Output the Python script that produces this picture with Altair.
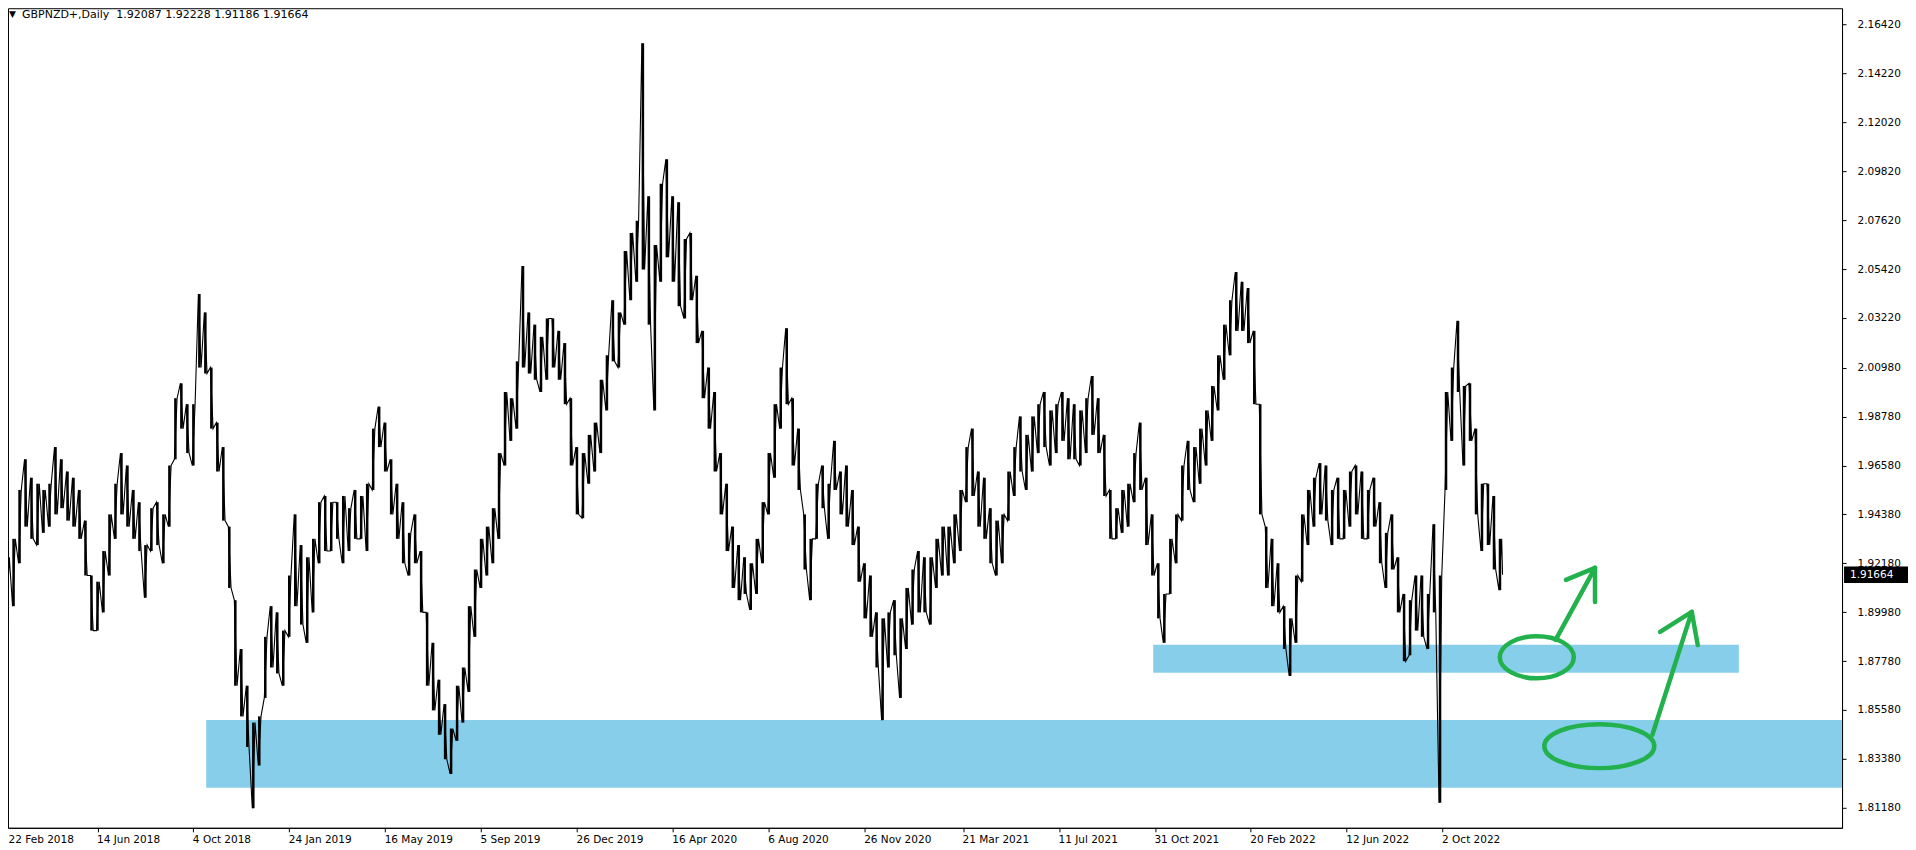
import altair as alt
import pandas as pd

# weekly high / low of GBPNZD daily bars, weeks start 2018-02-20
START = "2018-02-20"
HIGH = [1.9190, 1.9245, 1.9328, 1.9548, 1.9686, 1.9603, 1.9576, 1.9548, 1.9576, 1.9741,
        1.9686, 1.9631, 1.9603, 1.9548, 1.9410, 1.9163, 1.9135, 1.9273, 1.9438, 1.9576,
        1.9714, 1.9658, 1.9548, 1.9493, 1.9300, 1.9466, 1.9493, 1.9438, 1.9658, 1.9961,
        2.0028, 1.9934, 1.9934, 2.0430, 2.0347, 2.0099, 1.9851, 1.9741, 1.9383, 1.9052,
        1.8832, 1.8667, 1.8501, 1.8529, 1.8887, 1.9025, 1.8997, 1.8915, 1.9163, 1.9438,
        1.9300, 1.9245, 1.9328, 1.9493, 1.9521, 1.9493, 1.9493, 1.9521, 1.9466, 1.9548,
        1.9521, 1.9576, 1.9824, 1.9923, 1.9851, 1.9686, 1.9576, 1.9493, 1.9355, 1.9438,
        1.9273, 1.8997, 1.8860, 1.8694, 1.8584, 1.8474, 1.8667, 1.8749, 1.9025, 1.9190,
        1.9328, 1.9383, 1.9466, 1.9714, 1.9989, 1.9961, 2.0127, 2.0556, 2.0347, 2.0292,
        2.0237, 2.0320, 2.0320, 2.0264, 2.0209, 1.9961, 1.9741, 1.9714, 1.9796, 1.9851,
        2.0044, 2.0154, 2.0402, 2.0347, 2.0623, 2.0705, 2.0760, 2.1559, 2.0870, 2.0650,
        2.0926, 2.1036, 2.0870, 2.0843, 2.0678, 2.0705, 2.0512, 2.0264, 2.0099, 1.9989,
        1.9714, 1.9576, 1.9383, 1.9300, 1.9245, 1.9218, 1.9328, 1.9493, 1.9714, 1.9934,
        2.0099, 2.0276, 1.9961, 1.9824, 1.9438, 1.9328, 1.9576, 1.9658, 1.9576, 1.9769,
        1.9631, 1.9658, 1.9548, 1.9383, 1.9218, 1.9163, 1.8997, 1.8970, 1.8997, 1.9052,
        1.8970, 1.9107, 1.9190, 1.9273, 1.9245, 1.9245, 1.9328, 1.9383, 1.9383, 1.9438,
        1.9548, 1.9741, 1.9824, 1.9631, 1.9603, 1.9466, 1.9410, 1.9438, 1.9631, 1.9741,
        1.9879, 1.9796, 1.9879, 1.9934, 1.9989, 1.9906, 1.9934, 1.9989, 1.9961, 1.9934,
        1.9906, 1.9961, 2.0061, 1.9961, 1.9796, 1.9548, 1.9466, 1.9548, 1.9576, 1.9714,
        1.9851, 1.9603, 1.9438, 1.9218, 1.9080, 1.9328, 1.9438, 1.9658, 1.9769, 1.9741,
        1.9824, 1.9906, 2.0016, 2.0154, 2.0292, 2.0402, 2.0529, 2.0485, 2.0457, 2.0264,
        1.9934, 1.9383, 1.9328, 1.9218, 1.9025, 1.8970, 1.9163, 1.9438, 1.9548, 1.9603,
        1.9669, 1.9658, 1.9548, 1.9603, 1.9548, 1.9631, 1.9658, 1.9631, 1.9548, 1.9603,
        1.9493, 1.9355, 1.9438, 1.9245, 1.9080, 1.9052, 1.9163, 1.9163, 1.9080, 1.9394,
        1.9163, 1.9989, 2.0099, 2.0309, 2.0016, 2.0028, 1.9824, 1.9576, 1.9576, 1.9521,
        1.9328]
LOW = [1.8915, 1.8970, 1.9025, 1.9218, 1.9383, 1.9328, 1.9300, 1.9355, 1.9383, 1.9438,
       1.9466, 1.9410, 1.9383, 1.9328, 1.9163, 1.8915, 1.8915, 1.8997, 1.9163, 1.9328,
       1.9438, 1.9383, 1.9328, 1.9273, 1.9063, 1.9273, 1.9300, 1.9218, 1.9383, 1.9686,
       1.9824, 1.9714, 1.9658, 2.0099, 2.0072, 1.9824, 1.9631, 1.9410, 1.9107, 1.8667,
       1.8529, 1.8391, 1.8116, 1.8308, 1.8612, 1.8749, 1.8722, 1.8667, 1.8887, 1.9025,
       1.8942, 1.8860, 1.8997, 1.9218, 1.9273, 1.9273, 1.9328, 1.9218, 1.9273, 1.9328,
       1.9328, 1.9273, 1.9548, 1.9741, 1.9631, 1.9438, 1.9328, 1.9218, 1.9163, 1.9218,
       1.8997, 1.8667, 1.8556, 1.8446, 1.8336, 1.8270, 1.8419, 1.8501, 1.8639, 1.8887,
       1.9107, 1.9163, 1.9218, 1.9328, 1.9658, 1.9769, 1.9824, 2.0099, 2.0072, 2.0044,
       1.9989, 2.0044, 2.0099, 2.0044, 1.9934, 1.9658, 1.9438, 1.9421, 1.9576, 1.9631,
       1.9714, 1.9906, 2.0127, 2.0099, 2.0292, 2.0402, 2.0485, 2.0540, 2.0292, 1.9906,
       2.0485, 2.0595, 2.0485, 2.0375, 2.0320, 2.0402, 2.0209, 1.9961, 1.9824, 1.9631,
       1.9438, 1.9273, 1.9107, 1.9052, 1.9080, 1.9008, 1.9080, 1.9218, 1.9438, 1.9603,
       1.9824, 1.9934, 1.9658, 1.9548, 1.9190, 1.9052, 1.9328, 1.9466, 1.9328, 1.9548,
       1.9438, 1.9383, 1.9300, 1.9135, 1.8970, 1.8887, 1.8749, 1.8512, 1.8749, 1.8804,
       1.8612, 1.8832, 1.8942, 1.8997, 1.8997, 1.8942, 1.9107, 1.9163, 1.9163, 1.9218,
       1.9273, 1.9493, 1.9521, 1.9383, 1.9328, 1.9218, 1.9163, 1.9218, 1.9410, 1.9521,
       1.9631, 1.9548, 1.9631, 1.9714, 1.9741, 1.9658, 1.9714, 1.9769, 1.9686, 1.9686,
       1.9658, 1.9714, 1.9796, 1.9714, 1.9521, 1.9328, 1.9328, 1.9355, 1.9383, 1.9493,
       1.9548, 1.9300, 1.9163, 1.8970, 1.8860, 1.9080, 1.9218, 1.9410, 1.9548, 1.9493,
       1.9576, 1.9658, 1.9769, 1.9906, 2.0044, 2.0154, 2.0264, 2.0264, 2.0209, 1.9934,
       1.9438, 1.9107, 1.9025, 1.8997, 1.8832, 1.8711, 1.8860, 1.9135, 1.9300, 1.9383,
       1.9438, 1.9410, 1.9300, 1.9328, 1.9328, 1.9383, 1.9438, 1.9328, 1.9328, 1.9383,
       1.9218, 1.9107, 1.9190, 1.8997, 1.8777, 1.8804, 1.8915, 1.8887, 1.8832, 1.8997,
       1.8140, 1.9548, 1.9769, 1.9989, 1.9658, 1.9769, 1.9438, 1.9273, 1.9300, 1.9190,
       1.9097]
LAST_OHLC = [1.92087, 1.92228, 1.91186, 1.91664]

X_TICKS = ["2018-02-22", "2018-06-14", "2018-10-04", "2019-01-24", "2019-05-16",
           "2019-09-05", "2019-12-26", "2020-04-16", "2020-08-06", "2020-11-26",
           "2021-03-21", "2021-07-11", "2021-10-31", "2022-02-20", "2022-06-12",
           "2022-10-02"]
Y_TICKS = [2.16420, 2.14220, 2.12020, 2.09820, 2.07620, 2.05420, 2.03220, 2.00980,
           1.98780, 1.96580, 1.94380, 1.92180, 1.89980, 1.87780, 1.85580, 1.83380,
           1.81180]

ZONE_START = ["2018-10-19", "2021-10-29"]
ZONE_END = ["2024-03-01", "2023-09-13"]
ZONE_TOP = [1.8513, 1.8851]
ZONE_BOTTOM = [1.8208, 1.8725]

ELL_DATE = ["2023-01-20", "2023-04-03"]
ELL_PRICE = [1.8795, 1.8395]

# arrow segments: (segment id, date, price)
ARROW_SEG = ["a1", "a1", "a1h1", "a1h1", "a1h2", "a1h2",
             "a2", "a2", "a2h1", "a2h1", "a2h2", "a2h2"]
ARROW_DATE = ["2023-02-11", "2023-03-29", "2023-03-29", "2023-02-23", "2023-03-29", "2023-03-29",
              "2023-06-04", "2023-07-20", "2023-07-20", "2023-06-13", "2023-07-20", "2023-07-27"]
ARROW_PRICE = [1.8873, 1.9197, 1.9197, 1.9143, 1.9197, 1.9044,
               1.8446, 1.8999, 1.8999, 1.8909, 1.8999, 1.8850]

GREEN = "#22B14C"
BLUE = "#87CEEB"
FONT = "DejaVu Sans"
W, H = 1835, 820

# ---- build tables ----
weeks = pd.date_range(START, periods=len(HIGH), freq="7D")
rows = []
rules = []
for i, (d, h, l) in enumerate(zip(weeks, HIGH, LOW)):
    mid = (h + l) / 2
    nxt = (HIGH[i + 1] + LOW[i + 1]) / 2 if i + 1 < len(HIGH) else mid
    a, b = (l, h) if nxt >= mid else (h, l)
    rows.append({"t": d + pd.Timedelta(hours=20), "p": a})
    rows.append({"t": d + pd.Timedelta(days=4), "p": b})
    rules.append({"t": d + pd.Timedelta(days=2), "lo": l, "hi": h})
rows.append({"t": weeks[-1] + pd.Timedelta(days=5), "p": LAST_OHLC[3]})
line_df = pd.DataFrame(rows)
rule_df = pd.DataFrame(rules)

zones = pd.DataFrame({"s": pd.to_datetime(ZONE_START), "e": pd.to_datetime(ZONE_END),
                      "top": ZONE_TOP, "bot": ZONE_BOTTOM})
ell = pd.DataFrame({"t": pd.to_datetime(ELL_DATE), "p": ELL_PRICE, "k": ["e1", "e2"]})
arrows = pd.DataFrame({"seg": ARROW_SEG, "t": pd.to_datetime(ARROW_DATE), "p": ARROW_PRICE})
first_lab = pd.DataFrame({"t": pd.to_datetime([X_TICKS[0]]), "txt": ["22 Feb 2018"]})

x_dom = [alt.DateTime(year=2018, month=3, date=1, hours=12),
         alt.DateTime(year=2024, month=1, date=11, hours=12)]
xscale = alt.Scale(domain=x_dom)
yscale = alt.Scale(domain=[1.80275, 2.17162], nice=False, zero=False)

x_axis = alt.Axis(values=[alt.DateTime(year=int(s[:4]), month=int(s[5:7]), date=int(s[8:]))
                          for s in X_TICKS],
                  format="%-d %b %Y", labelAlign="left", labelOffset=-1, labelPadding=3,
                  tickSize=4, tickColor="black", domainColor="black", labelFont=FONT,
                  labelFontSize=10.5, labelColor="black", title=None, grid=False,
                  labelOverlap=False, labelFlush=False)
y_axis = alt.Axis(values=Y_TICKS, format=".5f", orient="right", tickSize=4,
                  tickColor="black", domainColor="black", labelFont=FONT,
                  labelFontSize=10.5, labelColor="black", labelPadding=11, title=None,
                  grid=False, labelOverlap=False, labelFlush=False)

zone_layer = alt.Chart(zones).mark_rect(color=BLUE, clip=True).encode(
    x=alt.X("s:T", scale=xscale, axis=x_axis), x2="e:T",
    y=alt.Y("top:Q", scale=yscale, axis=y_axis), y2="bot:Q")

rule_layer = alt.Chart(rule_df).mark_rule(color="black", strokeWidth=2.5, clip=True).encode(
    x=alt.X("t:T", scale=xscale), y=alt.Y("lo:Q", scale=yscale), y2="hi:Q")

line_layer = alt.Chart(line_df).mark_line(color="black", strokeWidth=1.1, clip=True).encode(
    x=alt.X("t:T", scale=xscale), y=alt.Y("p:Q", scale=yscale))

def ell_path(r):
    return f"M -1 0 A 1 {r} 0 1 0 1 0 A 1 {r} 0 1 0 -1 0 Z"

e1 = alt.Chart(ell[ell.k == "e1"]).mark_point(
    shape=ell_path(0.57), size=5476, filled=False, stroke=GREEN, strokeWidth=4.5, opacity=1
).encode(x=alt.X("t:T", scale=xscale), y=alt.Y("p:Q", scale=yscale))
e2 = alt.Chart(ell[ell.k == "e2"]).mark_point(
    shape=ell_path(0.40), size=12100, filled=False, stroke=GREEN, strokeWidth=4.5, opacity=1
).encode(x=alt.X("t:T", scale=xscale), y=alt.Y("p:Q", scale=yscale))

arrow_layer = alt.Chart(arrows).mark_line(color=GREEN, strokeWidth=4.5, strokeCap="round").encode(
    x=alt.X("t:T", scale=xscale), y=alt.Y("p:Q", scale=yscale), detail="seg:N")

hdr = pd.DataFrame({"txt": ["GBPNZD+,Daily\u00a0 " + " ".join(f"{v:.5f}" for v in LAST_OHLC)]})
header = alt.Chart(hdr).mark_text(align="left", baseline="alphabetic", font=FONT,
                                  fontSize=11, color="black").encode(
    x=alt.value(14), y=alt.value(10), text="txt:N")
tri = alt.Chart(pd.DataFrame({"txt": ["\u25BC"]})).mark_text(
    align="left", baseline="alphabetic", font=FONT, fontSize=9, color="black").encode(
    x=alt.value(1), y=alt.value(9), text="txt:N")

# first time-scale label sits at the left edge of the plotted range
first = alt.Chart(first_lab).mark_text(align="left", baseline="top", font=FONT,
                                       fontSize=10.5, color="black", dx=7).encode(
    x=alt.X("t:T", scale=xscale), y=alt.value(H + 7), text="txt:N")

last = pd.DataFrame({"p": [LAST_OHLC[3]], "lo": [LAST_OHLC[3] - 0.0037],
                     "hi": [LAST_OHLC[3] + 0.0037], "txt": [f"{LAST_OHLC[3]:.5f}"]})
pbox = alt.Chart(last).mark_rect(color="black").encode(
    x=alt.value(W + 2), x2=alt.value(W + 66), y=alt.Y("lo:Q", scale=yscale), y2="hi:Q")
ptxt = alt.Chart(last).mark_text(align="left", baseline="middle", font=FONT, fontSize=10.5,
                                 color="white").encode(
    x=alt.value(W + 8), y=alt.Y("p:Q", scale=yscale), text="txt:N")

chart = alt.layer(zone_layer, rule_layer, line_layer, e1, e2, arrow_layer, header, tri,
                  first, pbox, ptxt).properties(
    width=W, height=H, padding={"left": 0, "top": 0, "right": 0, "bottom": 0},
    background="white"
).configure_view(stroke="black", strokeWidth=1)

chart.save("out.html", embed_options={"renderer": "svg", "actions": False})
